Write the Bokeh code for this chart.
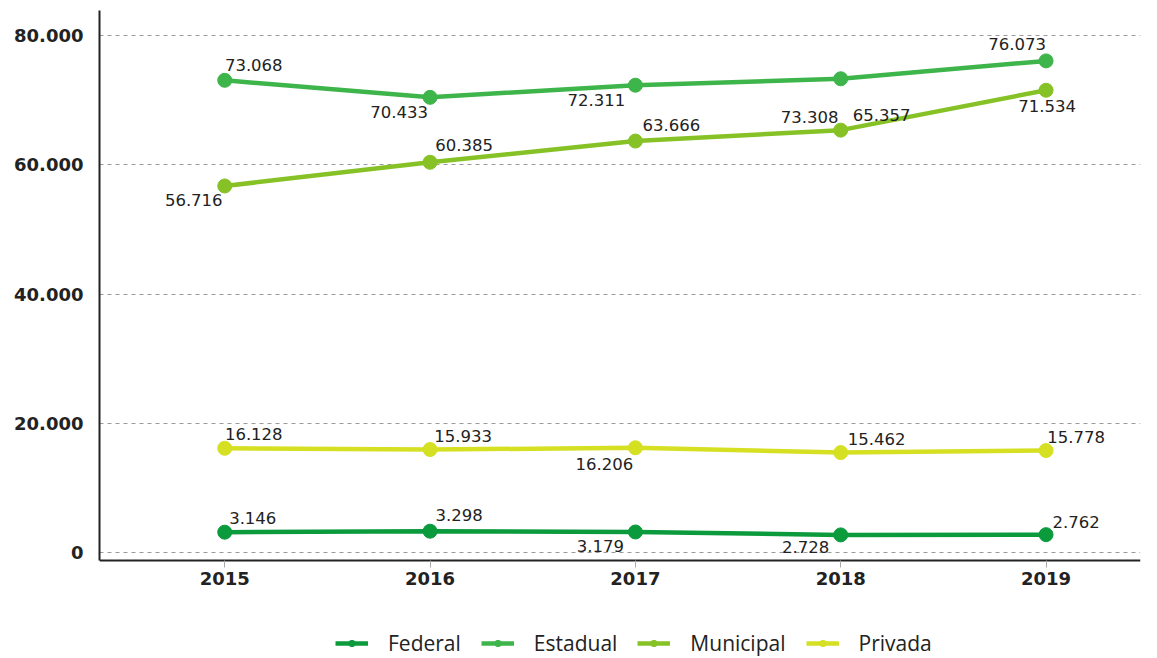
from bokeh.plotting import figure
from bokeh.models import ColumnDataSource, Legend, LegendItem, FixedTicker
from bokeh.core.properties import value
from bokeh.embed import file_html
from bokeh.resources import INLINE

years = [2015, 2016, 2017, 2018, 2019]
federal = [3146, 3298, 3179, 2728, 2762]
estadual = [73068, 70433, 72311, 73308, 76073]
municipal = [56716, 60385, 63666, 65357, 71534]
privada = [16128, 15933, 16206, 15462, 15778]

series_names = ["Federal", "Estadual", "Municipal", "Privada"]
series_values = [federal, estadual, municipal, privada]
series_colors = ["#0b9a3c", "#3db54a", "#86c226", "#d6e023"]

y_ticks = [0, 20000, 40000, 60000, 80000]
y_tick_labels = ["0", "20.000", "40.000", "60.000", "80.000"]

# label placement offsets in pixels (dx right, dy down)
label_dx = [
    [28, 29, -35, -35, 30],
    [29, -31, -39, -31, -29],
    [-31, 34, 36, 41, 1],
    [29, 33, -31, 36, 30],
]
label_dy = [
    [-14, -16, 14, 12, -13],
    [-15, 15, 15, 38, -17],
    [14, -17, -16, -15, 16],
    [-14, -14, 16, -14, -14],
]

Y_TOP = 83870
Y_AXIS = -1240
Y_BOTTOM = -16400

p = figure(width=1157, height=658, output_backend="svg", toolbar_location=None,
           x_range=(2014.39, 2019.46), y_range=(Y_BOTTOM, Y_TOP),
           min_border_left=99, min_border_right=17, min_border_top=10,
           min_border_bottom=0)
p.outline_line_color = None
p.background_fill_color = "white"

items = []
for name, vals, col, dxs, dys in zip(series_names, series_values, series_colors, label_dx, label_dy):
    src = ColumnDataSource(dict(x=years, y=vals,
                                lab=[f"{v:,}".replace(",", ".") for v in vals],
                                dx=dxs, dy=dys))
    r1 = p.line("x", "y", source=src, line_color=col, line_width=4.5)
    r2 = p.scatter("x", "y", source=src, size=14, fill_color=col, line_color=col)
    p.text("x", "y", text="lab", source=src, x_offset="dx", y_offset="dy",
           text_align="center", text_baseline="middle",
           text_font=value("DejaVu Sans"), text_font_size="16.5px", text_color="#222222")
    items.append(LegendItem(label=name, renderers=[r1, r2]))

p.xaxis.ticker = FixedTicker(ticks=years)
p.xaxis.fixed_location = Y_AXIS
p.yaxis.ticker = FixedTicker(ticks=y_ticks)
p.yaxis.bounds = (Y_AXIS, Y_TOP)
p.yaxis.major_label_overrides = {t: l for t, l in zip(y_ticks, y_tick_labels)}

p.xgrid.grid_line_color = None
p.ygrid.grid_line_color = "#9a9a9a"
p.ygrid.grid_line_dash = "4 4"
p.ygrid.grid_line_width = 1

for ax in (p.xaxis[0], p.yaxis[0]):
    ax.axis_line_color = "#222222"
    ax.axis_line_width = 2
    ax.minor_tick_line_color = None
    ax.major_label_text_font = "DejaVu Sans"
    ax.major_label_text_font_style = "bold"
    ax.major_label_text_color = "#222222"

p.yaxis.major_tick_line_color = None
p.yaxis.major_label_text_font_size = "18px"
p.yaxis.major_label_standoff = 10
p.xaxis.major_label_text_font_size = "18px"
p.xaxis.major_tick_line_color = "#aaaaaa"
p.xaxis.major_tick_in = 0
p.xaxis.major_tick_out = 7
p.xaxis.major_label_standoff = 4

legend = Legend(items=items, orientation="horizontal", location=(236, 1),
                label_text_font="Open Sans", label_text_font_size="21px",
                label_text_color="#222222", glyph_width=33, glyph_height=16,
                label_standoff=20, spacing=20, border_line_color=None,
                background_fill_alpha=0, margin=0, padding=1)
legend.label_height = 18
p.add_layout(legend, "center")

open("out.html", "w").write(file_html(p, INLINE))
